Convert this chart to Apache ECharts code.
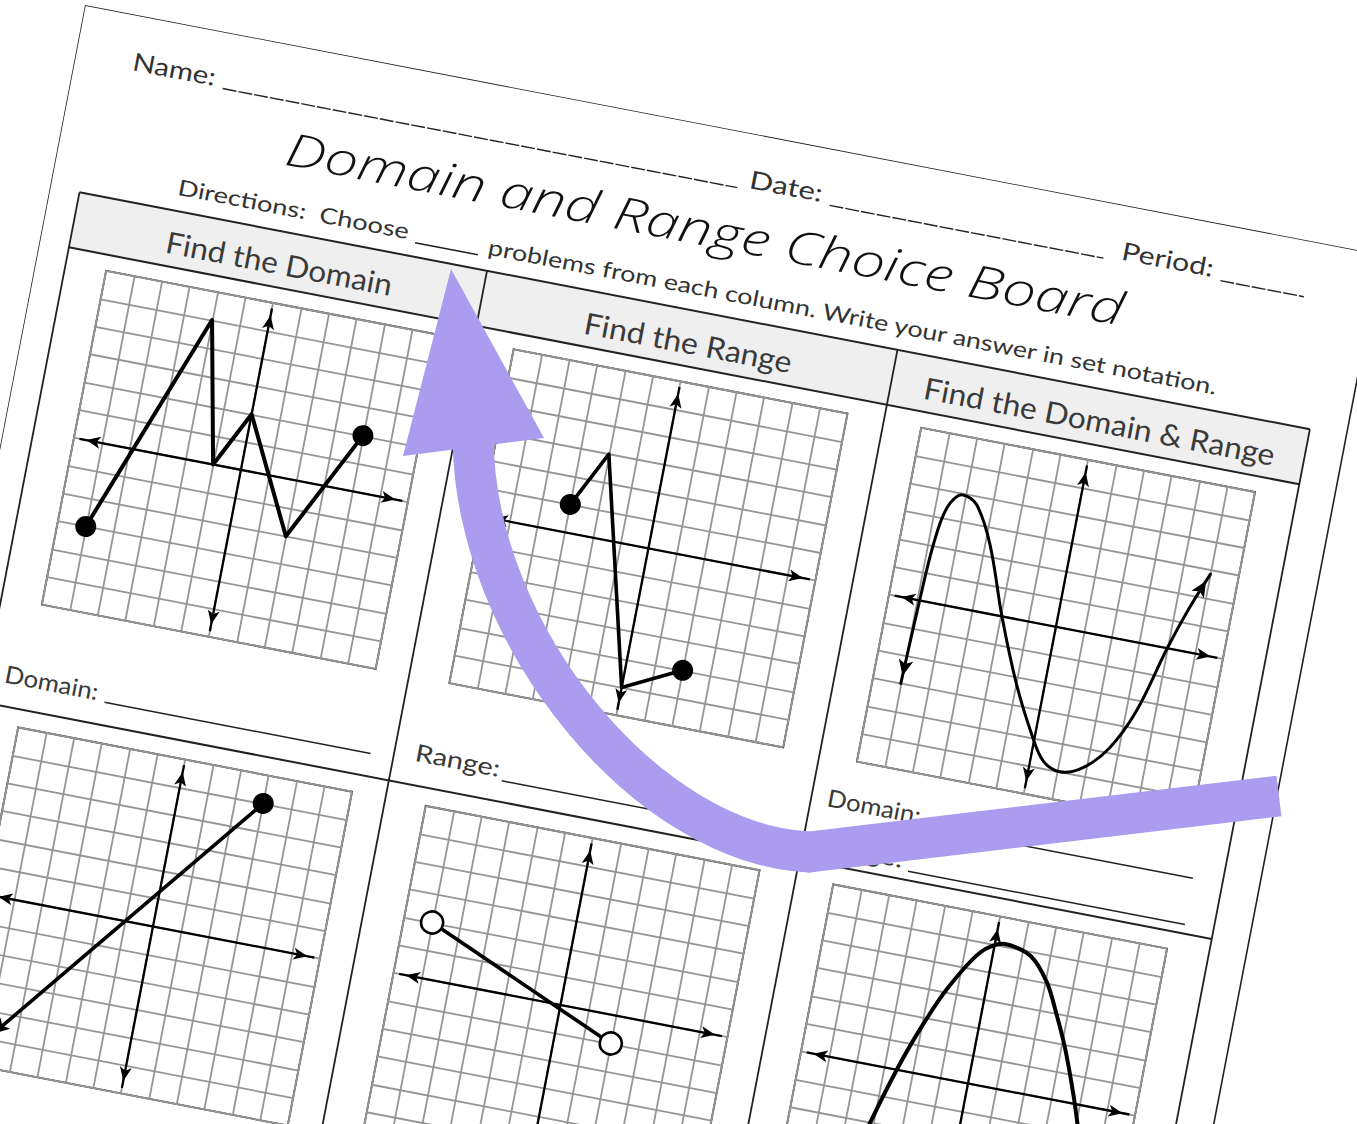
<!DOCTYPE html>
<html><head><meta charset="utf-8">
<script src="https://cdn.jsdelivr.net/npm/echarts@6/dist/echarts.min.js"></script>
<style>
html,body{margin:0;padding:0;width:1357px;height:1124px;overflow:hidden;background:#fff;}
#page{position:absolute;left:85px;top:5px;width:1330px;height:1400px;transform-origin:0 0;transform:rotate(10.9deg);}
#overlay{position:absolute;left:0;top:0;width:1357px;height:1124px;pointer-events:none;}
</style></head>
<body>
<div id="page"></div>
<div id="overlay"></div>
<script>
// ---------------- DATA ----------------
const worksheetTitle = 'Domain and Range Choice Board';
const headerLabels = ['Name:', 'Date:', 'Period:'];
const directionsParts = ['Directions:  Choose', 'problems from each column. Write your answer in set notation.'];
const columnTitles = ['Find the Domain', 'Find the Range', 'Find the Domain & Range'];
const answerLabels = ['Domain:', 'Range:'];
const tickMin = -6, tickMax = 6, tickStep = 1;

const g1Points = [[-5,-3],[-2,5],[-1,0],[0,2],[2,-2],[4,2]];
const g1Ends = ['dot','dot'];
const g2Points = [[-3,1],[-2,3],[0,-5],[2,-4]];
const g2Ends = ['dot','dot'];
const g3Points = [[-5,-3],[-4.9,0],[-4.8,2],[-4.57,3.4],[-4.1,3.95],[-3.56,3.7],[-2.83,2.4],[-1.94,0],[-0.98,-2.26],[-0.12,-3.89],[0.45,-4.73],[1.1,-5],[1.88,-4.7],[2.67,-3.83],[3.35,-2.38],[4,0],[4.5,1.55],[5,2.85]];
const g3Ends = ['arrow','arrow'];
const g4Points = [[-5,-5],[3,5]];
const g4Ends = ['arrow','dot'];
const g5Points = [[-5,2],[2,-1]];
const g5Ends = ['open','open'];
const g6Points = [[-4.0,-5.5],[-3.6,-3.9],[-3.1,-1.9],[-2.56,0],[-2.02,1.57],[-1.36,3.13],[-0.45,4.62],[0.36,5.08],[1.31,4.84],[2.06,4.03],[2.63,2.94],[3.14,1.84],[3.74,0.28],[4.2,-1.1],[4.7,-2.8],[5.1,-4.2]];
const g6Ends = ['arrow','arrow'];

// ---------------- LAYOUT (page coordinates) ----------------
const COL_X = [30, 445, 863];
const TABLE_RIGHT = 1283;
const GRID_LEFTS = [71, 486, 901];
const ROW_TOPS = [257, 722];
const GRID_SIZE = 340;
const AX = 5.8;
const FONT = "Lato, 'Open Sans', 'DejaVu Sans', sans-serif";
const INK = '#000';
const PURPLE = '#ab9cef';

const mctx = document.createElement('canvas').getContext('2d');
function textEl(str, left, baseline, size, width, o) {
  o = o || {};
  const font = (o.italic ? 'italic ' : '') + (o.weight || 'normal') + ' ' + size + 'px ' + (o.family || FONT);
  mctx.font = font;
  const w = mctx.measureText(str).width || 1;
  const sx = width / w;
  const x = o.center ? left - width / 2 : left;
  return {type:'text', x:x, y:baseline - size * 0.34, scaleX:sx, z:10,
    style:{text:str, x:0, y:0, font:font, fill:o.color || '#333',
      textAlign:'left', align:'left', textVerticalAlign:'middle', verticalAlign:'middle'}};
}
function hline(x1, x2, y, w, dash) {
  return {type:'line', z:5, shape:{x1:x1, y1:y, x2:x2, y2:y},
    style:{stroke:'#222', lineWidth:w || 1.6, lineDash:dash || null}};
}
function vline(x, y1, y2, w) {
  return {type:'line', z:5, shape:{x1:x, y1:y1, x2:x, y2:y2}, style:{stroke:'#222', lineWidth:w || 1.8}};
}

// ---------------- PAGE CHART ----------------
const pageChart = echarts.init(document.getElementById('page'), null, {renderer:'svg'});
const graphic = [];
graphic.push({type:'rect', z:1, shape:{x:0, y:0, width:1320, height:1390}, style:{fill:'none', stroke:'#222', lineWidth:1.6}});
// header row
graphic.push(textEl(headerLabels[0], 58, 54, 25, 84));
graphic.push(hline(151, 675, 56, 1.4, [14, 2]));
graphic.push(textEl(headerLabels[1], 686, 53, 25, 74));
graphic.push(hline(769, 1048, 56, 1.4, [14, 2]));
graphic.push(textEl(headerLabels[2], 1065, 53, 25, 93));
graphic.push(hline(1167, 1252, 56, 1.4, [14, 2]));
// title
graphic.push(textEl(worksheetTitle, 225, 117, 46, 853, {italic:true, weight:300, family:"'Open Sans', Lato, sans-serif", color:'#111'}));
// directions
graphic.push(textEl(directionsParts[0], 126, 168, 22, 235));
graphic.push(hline(369, 433, 171, 1.5));
graphic.push(textEl(directionsParts[1], 442, 168, 22, 744));
// table
graphic.push({type:'rect', z:2, shape:{x:COL_X[0], y:185, width:TABLE_RIGHT - COL_X[0], height:56}, style:{fill:'#efefef'}});
graphic.push(hline(COL_X[0], TABLE_RIGHT, 185, 2));
graphic.push(hline(COL_X[0], TABLE_RIGHT, 241, 2));
graphic.push(hline(COL_X[0], TABLE_RIGHT, 704, 2));
graphic.push(vline(COL_X[0], 185, 1400));
graphic.push(vline(COL_X[1], 185, 1400));
graphic.push(vline(COL_X[2], 185, 1400));
graphic.push(vline(TABLE_RIGHT, 185, 1400));
const titleWidths = [230, 211, 357];
columnTitles.forEach((t, i) => {
  const c = (COL_X[i] + (i < 2 ? COL_X[i + 1] : TABLE_RIGHT)) / 2;
  graphic.push(textEl(t, c + 2, 227, 30, titleWidths[i], {center:true, color:'#3a3a3a'}));
});
// answer labels
graphic.push(textEl(answerLabels[0], 48, 679, 24, 95, {color:'#3a3a3a'}));
graphic.push(hline(151, 422, 681, 1.5));
graphic.push(textEl(answerLabels[1], 466, 679, 24, 86, {color:'#3a3a3a'}));
graphic.push(hline(556, 837, 683, 1.5));
graphic.push(textEl(answerLabels[0], 879, 645, 24, 95, {color:'#3a3a3a'}));
graphic.push(hline(985, 1253, 648, 1.5));
graphic.push(textEl(answerLabels[1], 879, 692, 24, 86, {color:'#3a3a3a'}));
graphic.push(hline(972, 1254, 695, 1.5));

const graphs = [
  {pts:g1Points, ends:g1Ends, smooth:false, lw:4},
  {pts:g2Points, ends:g2Ends, smooth:false, lw:3.6},
  {pts:g3Points, ends:g3Ends, smooth:0.35, lw:3},
  {pts:g4Points, ends:g4Ends, smooth:false, lw:3.6},
  {pts:g5Points, ends:g5Ends, smooth:false, lw:3.6},
  {pts:g6Points, ends:g6Ends, smooth:0.3, lw:4}
];
const PX = GRID_SIZE / (tickMax - tickMin);
function arrowItem(tip, from, size) {
  const dx = tip[0] - from[0], dy = tip[1] - from[1];
  const L = Math.hypot(dx, dy) || 1;
  const back = size[1] / 2 / PX;
  return {value:[tip[0] - dx / L * back, tip[1] - dy / L * back], symbol:'arrow', symbolSize:size,
    symbolRotate:Math.atan2(dy, dx) * 180 / Math.PI - 90, itemStyle:{color:INK, opacity:1}};
}
function endItem(kind, tip, from) {
  if (kind === 'arrow') return arrowItem(tip, from, [11, 16]);
  if (kind === 'open') return {value:tip, symbol:'circle', symbolSize:22, itemStyle:{color:'#fff', borderColor:INK, borderWidth:2.6, opacity:1}};
  return {value:tip, symbol:'circle', symbolSize:21, itemStyle:{color:INK, opacity:1}};
}

const grids = [], xAxes = [], yAxes = [], series = [];
graphs.forEach((g, i) => {
  const col = i % 3, row = Math.floor(i / 3);
  grids.push({left:GRID_LEFTS[col], top:ROW_TOPS[row], width:GRID_SIZE, height:GRID_SIZE,
    show:true, borderColor:'#222', borderWidth:1.8});
  const ax = {gridIndex:i, type:'value', min:tickMin, max:tickMax, interval:tickStep,
    axisLine:{show:false}, axisTick:{show:false}, axisLabel:{show:false},
    splitLine:{show:true, lineStyle:{color:'#959595', width:1.8}}};
  xAxes.push(Object.assign({}, ax));
  yAxes.push(Object.assign({}, ax));
  const base = {xAxisIndex:i, yAxisIndex:i, silent:true, animation:false};
  series.push(Object.assign({type:'line', data:[[-AX,0],[AX,0]], symbol:'none', z:4,
    lineStyle:{color:INK, width:2.3}}, base));
  series.push(Object.assign({type:'line', data:[[0,-AX],[0,AX]], symbol:'none', z:4,
    lineStyle:{color:INK, width:2.3}}, base));
  series.push(Object.assign({type:'scatter', z:5, itemStyle:{opacity:1}, data:[
    arrowItem([AX,0],[0,0],[9,14]), arrowItem([-AX,0],[0,0],[9,14]),
    arrowItem([0,AX],[0,0],[9,14]), arrowItem([0,-AX],[0,0],[9,14])]}, base));
  series.push(Object.assign({type:'line', data:g.pts, symbol:'none', smooth:g.smooth, z:6,
    lineStyle:{color:INK, width:g.lw, cap:'round', join:'round'}}, base));
  const n = g.pts.length;
  series.push(Object.assign({type:'scatter', z:7, itemStyle:{opacity:1}, data:[
    endItem(g.ends[0], g.pts[0], g.pts[1]),
    endItem(g.ends[1], g.pts[n - 1], g.pts[n - 2])]}, base));
});

pageChart.setOption({
  animation:false,
  backgroundColor:'#fff',
  grid:grids, xAxis:xAxes, yAxis:yAxes, series:series,
  graphic:{elements:graphic}
});

// ---------------- OVERLAY ARROW (screen coordinates) ----------------
const overlay = echarts.init(document.getElementById('overlay'), null, {renderer:'canvas'});
overlay.setOption({
  animation:false,
  graphic:{elements:[
    {type:'bezierCurve', shape:{x1:473, y1:440, cpx1:476, cpy1:640, cpx2:650, cpy2:845, x2:809, y2:852},
      style:{stroke:PURPLE, lineWidth:41, fill:null, lineCap:'round'}},
    {type:'line', shape:{x1:805, y1:852.5, x2:1279, y2:796},
      style:{stroke:PURPLE, lineWidth:41, lineCap:'butt'}},
    {type:'polygon', shape:{points:[[451,269],[403,456],[544,438]]}, style:{fill:PURPLE}}
  ]}
});
</script>
</body></html>
